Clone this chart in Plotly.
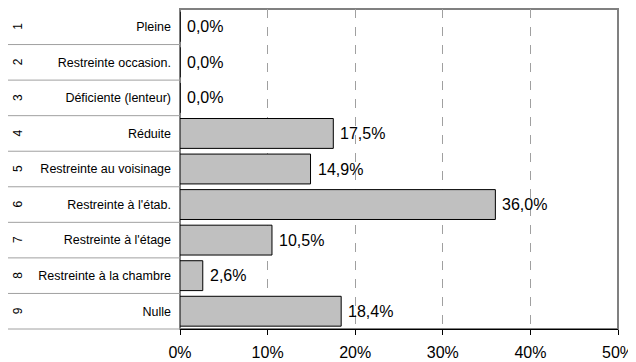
import plotly.graph_objects as go

# data
row_numbers = ["1", "2", "3", "4", "5", "6", "7", "8", "9"]
categories = [
    "Pleine",
    "Restreinte occasion.",
    "Déficiente (lenteur)",
    "Réduite",
    "Restreinte au voisinage",
    "Restreinte à l'étab.",
    "Restreinte à l'étage",
    "Restreinte à la chambre",
    "Nulle",
]
percent = [0.0, 0.0, 0.0, 17.5, 14.9, 36.0, 10.5, 2.6, 18.4]
x_ticks = [0, 10, 20, 30, 40, 50]

# the page body has an 8px margin, so the figure is 8px smaller each way
W, H = 628, 354
M_L, M_R, M_T, M_B = 172, 18, 1, 33
plot_w = W - M_L - M_R
n = len(categories)

fig = go.Figure()
fig.add_trace(
    go.Bar(
        x=percent,
        y=categories,
        orientation="h",
        marker=dict(color="#C0C0C0", line=dict(color="#000000", width=1)),
        hoverinfo="skip",
    )
)

# value labels right of each bar
for cat, v in zip(categories, percent):
    fig.add_annotation(
        x=v, y=cat, xref="x", yref="y",
        text=f"{v:.1f}%".replace(".", ","),
        showarrow=False, xanchor="left", xshift=5,
        font=dict(size=16, color="#000000"),
    )

# rotated row numbers + row separators on the left
for i, num in enumerate(row_numbers):
    fig.add_annotation(
        x=(10 - M_L) / plot_w, y=1 - (i + 0.5) / n, xref="paper", yref="paper",
        xanchor="center", yanchor="middle",
        text=num, textangle=-90, showarrow=False,
        font=dict(size=12, color="#000000"),
    )
    fig.add_shape(
        type="line", xref="paper", yref="paper",
        x0=(0 - M_L) / plot_w, x1=0, y0=1 - (i + 1) / n, y1=1 - (i + 1) / n,
        line=dict(color="#A0A0A0", width=1),
    )

# plot area frame
fig.add_shape(
    type="rect", xref="paper", yref="paper", x0=0, x1=1, y0=0, y1=1,
    line=dict(color="#808080", width=2), layer="below",
)

fig.update_layout(
    width=W, height=H,
    margin=dict(l=M_L, r=M_R, t=M_T, b=M_B),
    plot_bgcolor="white", paper_bgcolor="white",
    showlegend=False,
    bargap=0.16,
    font=dict(family="Liberation Sans, Arial, sans-serif", color="#000000"),
    xaxis=dict(
        range=[0, 50], tickvals=x_ticks, ticktext=[f"{t}%" for t in x_ticks],
        showgrid=True, gridcolor="#A0A0A0", griddash="dash", gridwidth=1,
        zeroline=False, showline=True, linecolor="#000000", linewidth=1,
        ticks="outside", ticklen=5, tickcolor="#000000",
        tickfont=dict(size=16), ticklabelstandoff=4, ticklabeloverflow="allow",
    ),
    yaxis=dict(
        autorange="reversed", showgrid=False, zeroline=False, showline=False,
        ticks="", tickfont=dict(size=12.5), ticklabelstandoff=8,
    ),
)

fig.write_html("out.html", config={"displayModeBar": False})
